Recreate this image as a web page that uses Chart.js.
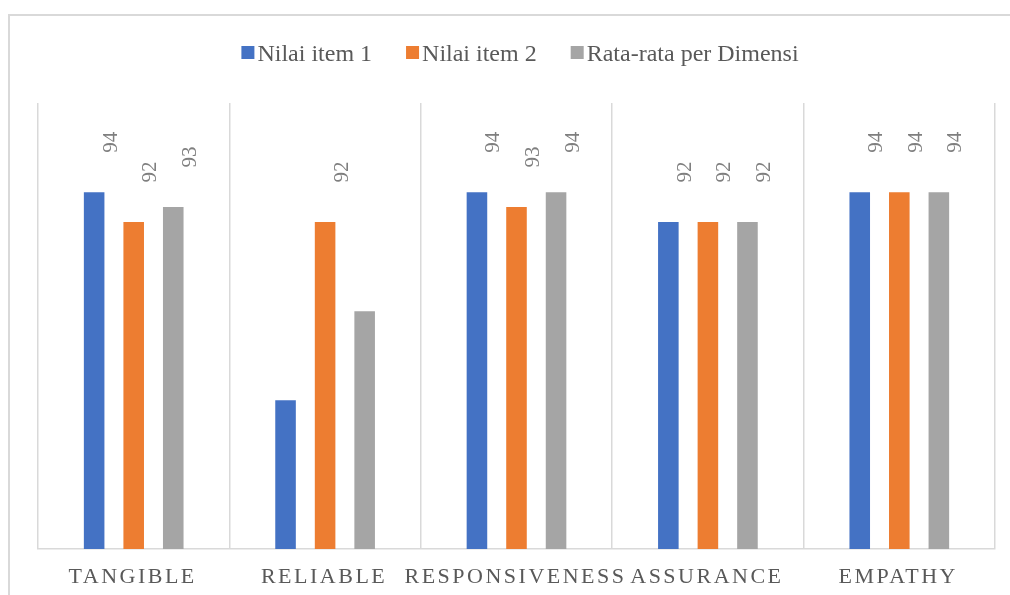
<!DOCTYPE html>
<html>
<head>
<meta charset="utf-8">
<script src="https://cdn.jsdelivr.net/npm/chart.js"></script>
<style>
  html,body{margin:0;padding:0;background:#fff;overflow:hidden}
  #frame{position:absolute;left:8px;top:14px;width:1100px;height:700px;border:2px solid #d9d9d9;box-sizing:border-box}
  #wrap{position:absolute;left:0;top:0;width:1010px;height:595px}
</style>
</head>
<body>
<div id="frame"></div>
<div id="wrap"><canvas id="chart"></canvas></div>
<script>
  // ---- data ----
  const categories = ['TANGIBLE','RELIABLE','RESPONSIVENESS','ASSURANCE','EMPATHY'];
  const seriesNames = ['Nilai item 1','Nilai item 2','Rata-rata per Dimensi'];
  const item1 = [94, 80, 94, 92, 94];
  const item2 = [92, 92, 93, 92, 94];
  const avgDim = [93, 86, 94, 92, 94];
  // labels not shown in the original: [dataset, index]
  const hiddenLabels = [[0,1],[2,1]];
  const yMin = 70, yMax = 100;

  const COLORS = ['#4472C4','#ED7D31','#A5A5A5'];
  const SERIF = '"Liberation Serif", "Times New Roman", serif';

  // ---- value labels, rotated ----
  const valueLabels = {
    id:'valueLabels',
    afterDatasetsDraw(chart){
      const ctx = chart.ctx;
      ctx.save();
      ctx.font = '21px ' + SERIF;
      ctx.fillStyle = '#7f7f7f';
      ctx.textAlign = 'center';
      ctx.textBaseline = 'middle';
      chart.data.datasets.forEach((ds,di)=>{
        chart.getDatasetMeta(di).data.forEach((bar,i)=>{
          if(hiddenLabels.some(h=>h[0]===di && h[1]===i)) return;
          ctx.save();
          ctx.translate(bar.x + 17, bar.y - 50);
          ctx.rotate(-Math.PI/2);
          ctx.fillText(String(ds.data[i]), 0, 0);
          ctx.restore();
        });
      });
      ctx.restore();
    }
  };

  // ---- category labels with letter spacing ----
  const catLabels = {
    id:'catLabels',
    afterDraw(chart){
      const ctx = chart.ctx, xs = chart.scales.x;
      ctx.save();
      ctx.font = '22px ' + SERIF;
      ctx.letterSpacing = '2.5px';
      ctx.fillStyle = '#595959';
      ctx.textAlign = 'center';
      ctx.textBaseline = 'alphabetic';
      categories.forEach((c,i)=>{
        ctx.fillText(c, xs.getPixelForValue(i) - 1, 583);
      });
      ctx.restore();
    }
  };

  // ---- legend (Excel style, small gap between box and text) ----
  const topLegend = {
    id:'topLegend',
    afterDraw(chart){
      const ctx = chart.ctx;
      ctx.save();
      ctx.font = '24px ' + SERIF;
      ctx.textBaseline = 'alphabetic';
      ctx.textAlign = 'left';
      const box = 13, gap = 3, itemGap = 34;
      const widths = seriesNames.map(n=>ctx.measureText(n).width);
      const total = widths.reduce((a,w)=>a+box+gap+w,0) + itemGap*(seriesNames.length-1);
      let x = 520 - total/2;
      seriesNames.forEach((n,i)=>{
        ctx.fillStyle = COLORS[i];
        ctx.fillRect(x, 46, box, box);
        ctx.fillStyle = '#595959';
        ctx.fillText(n, x + box + gap, 61);
        x += box + gap + widths[i] + itemGap;
      });
      ctx.restore();
    }
  };

  new Chart(document.getElementById('chart'), {
    type:'bar',
    data:{
      labels: categories,
      datasets:[
        {label:seriesNames[0], data:item1, backgroundColor:COLORS[0]},
        {label:seriesNames[1], data:item2, backgroundColor:COLORS[1]},
        {label:seriesNames[2], data:avgDim, backgroundColor:COLORS[2]}
      ]
    },
    options:{
      responsive:true, maintainAspectRatio:false, animation:false,
      categoryPercentage:0.62, barPercentage:0.52,
      layout:{ padding:{ left:38, right:15, top:103, bottom:46 } },
      plugins:{ legend:{ display:false }, tooltip:{ enabled:false } },
      scales:{
        x:{
          grid:{ display:true, offset:true, color:'#d9d9d9', lineWidth:1.5, drawTicks:false },
          border:{ display:true, color:'#d9d9d9', width:1.5 },
          ticks:{ display:false }
        },
        y:{ display:false, min:yMin, max:yMax }
      }
    },
    plugins:[valueLabels, catLabels, topLegend]
  });
</script>
</body>
</html>
